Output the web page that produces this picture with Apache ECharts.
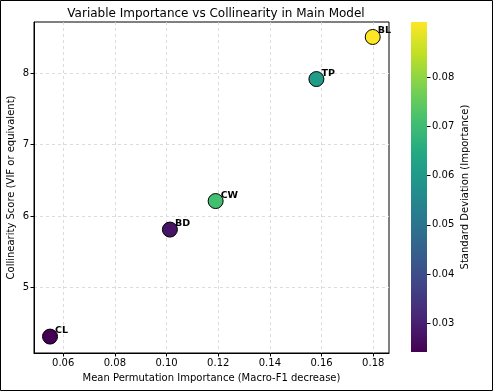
<!DOCTYPE html>
<html>
<head>
<meta charset="utf-8">
<script src="https://cdn.jsdelivr.net/npm/echarts@6/dist/echarts.min.js"></script>
<style>html,body{margin:0;padding:0;background:#fff;}#c{width:493px;height:391px;}</style>
</head>
<body>
<div id="c"></div>
<script>
// ---- data ----
const names = ['BL', 'TP', 'CW', 'BD', 'CL'];
const importance = [0.1798, 0.158, 0.119, 0.1013, 0.0549];
const collinearity = [8.51, 7.92, 6.21, 5.81, 4.31];
const stdDev = [0.0913, 0.061, 0.071, 0.0275, 0.0241];
const xTicks = [0.06, 0.08, 0.10, 0.12, 0.14, 0.16, 0.18];
const yTicks = [5, 6, 7, 8];
const cbTicks = [0.03, 0.04, 0.05, 0.06, 0.07, 0.08];

const viridis = ['#440154','#482475','#414487','#355f8d','#2a788e','#21918c','#22a884','#44bf70','#7ad151','#bddf26','#fde725'];
const cbMin = Math.min(...stdDev), cbMax = Math.max(...stdDev);

const font = 'DejaVu Sans';
const chart = echarts.init(document.getElementById('c'));
const points = names.map((n, i) => [importance[i], collinearity[i], stdDev[i], n]);
const gridTop = 22, gridH = 331, cbH = 330;

const stops = viridis.map((c, i) => ({offset: i / (viridis.length - 1), color: c}));

chart.setOption({
  animation: false,
  backgroundColor: '#fff',
  textStyle: {fontFamily: font},
  title: {
    text: 'Variable Importance vs Collinearity in Main Model',
    left: 211, top: 3, textAlign: 'center',
    textStyle: {fontFamily: font, fontSize: 12, fontWeight: 'normal', color: '#000'}
  },
  graphic: [{
    type: 'rect', shape: {x: 0.5, y: 0.5, width: 492, height: 390},
    style: {fill: 'none', stroke: '#000', lineWidth: 1}, silent: true
  }],
  grid: [
    {left: 34, top: gridTop, width: 355, height: gridH, show: true, borderColor: '#000', borderWidth: 1,
     backgroundColor: 'transparent', containLabel: false, outerBoundsMode: 'none'},
    {left: 411, top: gridTop, width: 16, height: cbH, containLabel: false, outerBoundsMode: 'none'}
  ],
  xAxis: [{
    type: 'value', gridIndex: 0, min: 0.0487, max: 0.1861, splitNumber: 7,
    name: 'Mean Permutation Importance (Macro-F1 decrease)', nameLocation: 'middle', nameGap: 20,
    nameMoveOverlap: false,
    nameTextStyle: {fontFamily: font, fontSize: 10, color: '#000'},
    axisLine: {show: true, lineStyle: {color: '#000'}},
    axisTick: {show: true, length: 3.5, lineStyle: {color: '#000'}, customValues: xTicks},
    axisLabel: {fontFamily: font, fontSize: 10, color: '#000', margin: 5, customValues: xTicks,
      formatter: v => v.toFixed(2)},
    splitLine: {show: true, lineStyle: {color: '#d4d4d4', type: [3, 3], width: 0.8}}
  }, {
    type: 'category', gridIndex: 1, data: ['cb'], show: false
  }],
  yAxis: [{
    type: 'value', gridIndex: 0, min: 4.08, max: 8.72, splitNumber: 5,
    name: 'Collinearity Score (VIF or equivalent)', nameLocation: 'middle', nameGap: 18,
    nameMoveOverlap: false,
    nameTextStyle: {fontFamily: font, fontSize: 10, color: '#000'},
    axisLine: {show: true, lineStyle: {color: '#000'}},
    axisTick: {show: true, length: 3.5, lineStyle: {color: '#000'}, customValues: yTicks},
    axisLabel: {fontFamily: font, fontSize: 10, color: '#000', margin: 5, customValues: yTicks},
    splitLine: {show: true, lineStyle: {color: '#d4d4d4', type: [3, 3], width: 0.8}}
  }, {
    type: 'value', gridIndex: 1, min: cbMin, max: cbMax, splitNumber: 5, position: 'right',
    name: 'Standard Deviation (Importance)', nameLocation: 'middle', nameGap: 33, nameRotate: 90,
    nameMoveOverlap: false,
    nameTextStyle: {fontFamily: font, fontSize: 10, color: '#000'},
    axisLine: {show: false},
    axisTick: {show: true, length: 3.5, lineStyle: {color: '#000'}, customValues: cbTicks},
    axisLabel: {fontFamily: font, fontSize: 10, color: '#000', margin: 5, customValues: cbTicks,
      formatter: v => v.toFixed(2)},
    splitLine: {show: false}
  }],
  visualMap: {
    type: 'continuous', show: false, seriesIndex: 0, dimension: 2,
    min: cbMin, max: cbMax, inRange: {color: viridis}
  },
  series: [{
    type: 'scatter', xAxisIndex: 0, yAxisIndex: 0,
    data: points, symbolSize: 15,
    itemStyle: {borderColor: '#000', borderWidth: 1, opacity: 1},
    label: {
      show: true, formatter: p => p.data[3], position: [13, 2], align: 'left', verticalAlign: 'middle',
      fontFamily: font, fontSize: 9.5, fontWeight: 'bold', color: '#000'
    },
    z: 5
  }, {
    type: 'custom', xAxisIndex: 1, yAxisIndex: 1,
    data: [[0, cbMin, cbMax]],
    renderItem: (params, api) => {
      const top = api.coord([api.value(0), api.value(2)]);
      const bot = api.coord([api.value(0), api.value(1)]);
      const w = api.size([1, 0])[0];
      return {
        type: 'rect',
        shape: {x: top[0] - w / 2, y: top[1], width: w, height: bot[1] - top[1]},
        style: {fill: new echarts.graphic.LinearGradient(0, bot[1], 0, top[1], stops, true)}
      };
    }
  }]
});
</script>
</body>
</html>
